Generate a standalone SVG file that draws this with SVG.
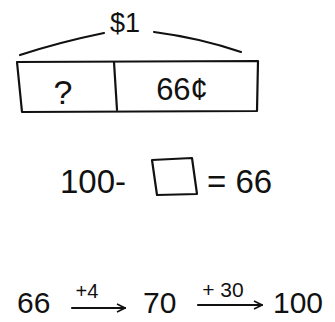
<svg xmlns="http://www.w3.org/2000/svg" width="335" height="322" viewBox="0 0 335 322">
<style>
.t{font-family:"Liberation Sans",Arial,sans-serif;fill:#111;}
.s{fill:none;stroke:#111;stroke-width:2.2;stroke-linecap:round;stroke-linejoin:round;}
</style>
<defs>
<marker id="ah" viewBox="0 0 10 10" refX="9" refY="5" markerWidth="10" markerHeight="10" markerUnits="userSpaceOnUse" orient="auto">
<path d="M1,1 L9,5 L1,9" fill="none" stroke="#111" stroke-width="1.6"/>
</marker>
</defs>
<rect width="335" height="322" fill="#fff"/>
<g id="bracket">
<path class="s" d="M20,55 Q60,42 104,33"/>
<path class="s" d="M154,32 Q200,38 241,52"/>
<text class="t" x="125" y="32" font-size="27" text-anchor="middle">$1</text>
</g>
<g id="tape">
<path class="s" d="M17,62 L258,61 L257,111 L22,112 Z"/>
<path class="s" d="M114,62 L117,110"/>
<text class="t" x="63" y="104" font-size="34" text-anchor="middle">?</text>
<text class="t" x="182" y="100" font-size="31" text-anchor="middle">66¢</text>
</g>
<g id="equation">
<text class="t" x="60" y="193" font-size="33">100-</text>
<path class="s" d="M152,160 L192,158 L197,194 L157,195 Z"/>
<text class="t" x="207" y="193" font-size="33">= 66</text>
</g>
<g id="connectors">
<path class="s" d="M72,308 L125,308" marker-end="url(#ah)"/>
<path class="s" d="M198,305 L262,305" marker-end="url(#ah)"/>
</g>
<g id="chain">
<text class="t" x="17" y="313" font-size="30">66</text>
<text class="t" x="87" y="298" font-size="20" text-anchor="middle">+4</text>
<text class="t" x="143" y="313" font-size="30">70</text>
<text class="t" x="223" y="297" font-size="21" text-anchor="middle">+ 30</text>
<text class="t" x="273" y="313" font-size="30">100</text>
</g>
</svg>
